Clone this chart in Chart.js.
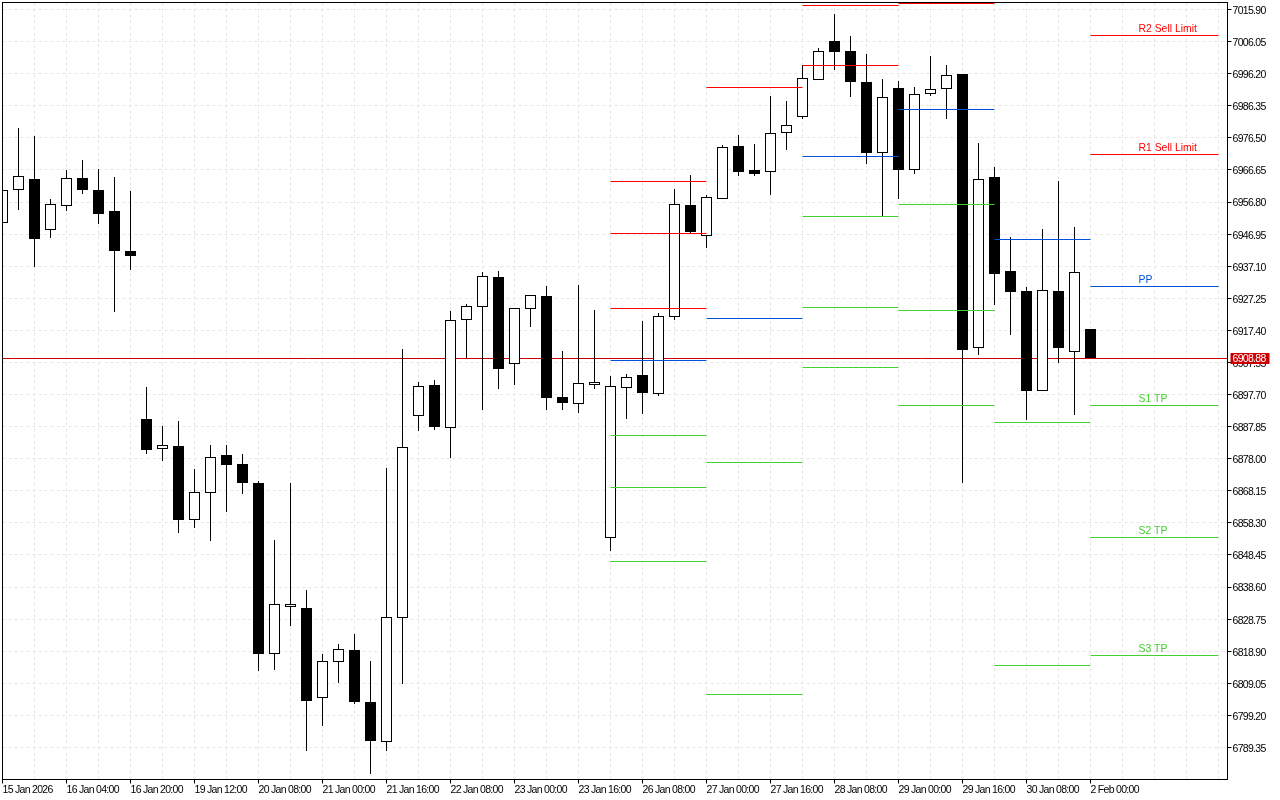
<!DOCTYPE html>
<html>
<head>
<meta charset="utf-8">
<title>Candles</title>
<script src="https://cdn.jsdelivr.net/npm/chart.js@4"></script>
<style>
    html, body { margin: 0; padding: 0; background: #fff; overflow: hidden; }
    canvas { display: block; }
</style>
</head>
<body>
<canvas id="candleChart" width="1280" height="800"></canvas>
<script>
const opens = [6950.3,6960.6,6963.8,6948.2,6955.6,6964.1,6960.4,6954.0,6941.7,6890.1,6881.0,6881.8,6859.2,6867.5,6879.1,6876.3,6870.5,6818.1,6832.5,6832.1,6804.6,6815.6,6819.2,6803.3,6791.1,6829.3,6891.3,6900.6,6887.6,6920.7,6924.6,6933.7,6907.1,6924.0,6927.9,6896.9,6895.0,6900.7,6853.8,6899.7,6903.6,6897.9,6921.5,6955.8,6946.4,6957.8,6973.9,6966.6,6966.0,6978.0,6983.1,6994.3,7006.2,7003.1,6993.6,6971.9,6991.7,6966.7,6989.9,6991.5,6996.0,6912.1,6964.4,6935.6,6929.4,6898.9,6929.4,6910.8,6917.8];
const highs = [6960.3,6979.5,6977.0,6957.7,6966.6,6969.6,6966.9,6964.4,6960.1,6900.0,6888.0,6889.5,6874.8,6882.1,6882.1,6879.4,6871.1,6853.0,6870.5,6837.6,6818.0,6821.1,6824.1,6815.8,6875.1,6911.6,6901.5,6902.1,6923.3,6925.4,6935.3,6935.6,6924.1,6928.1,6931.0,6911.0,6931.3,6923.6,6903.3,6903.9,6920.2,6922.7,6960.7,6965.0,6958.9,6974.2,6977.3,6974.5,6989.3,6987.8,6998.8,7004.0,7014.5,7007.7,7002.2,6994.5,6993.9,6992.0,7001.6,6998.8,6996.0,6974.9,6967.5,6946.0,6930.7,6948.5,6963.2,6949.1,6917.8];
const lows = [6950.3,6954.3,6936.9,6945.8,6954.1,6959.2,6950.0,6923.0,6935.9,6879.4,6877.5,6855.4,6856.7,6852.7,6861.6,6867.1,6812.8,6813.1,6826.6,6788.2,6795.9,6809.1,6802.9,6781.2,6788.2,6808.8,6886.5,6886.8,6878.2,6908.9,6892.9,6899.6,6900.6,6918.4,6892.9,6892.9,6892.0,6899.6,6849.6,6890.4,6891.7,6897.2,6920.8,6947.2,6942.6,6957.8,6964.7,6964.7,6958.9,6972.7,6982.5,6994.3,6997.3,6989.0,6968.4,6952.4,6957.7,6965.6,6989.3,6982.2,6870.5,6909.8,6925.1,6915.9,6890.1,6898.9,6907.6,6891.4,6908.9];
const closes = [6960.3,6964.6,6945.4,6956.0,6964.0,6960.4,6953.1,6941.7,6940.2,6880.6,6882.1,6859.4,6867.6,6878.4,6876.0,6870.5,6818.0,6833.2,6833.2,6803.6,6815.7,6819.4,6803.3,6791.3,6829.3,6881.4,6900.2,6887.8,6920.4,6924.7,6933.9,6905.5,6924.1,6928.1,6896.6,6895.1,6901.1,6901.4,6900.2,6903.1,6898.1,6921.7,6956.0,6947.8,6958.2,6973.5,6966.0,6965.6,6977.8,6980.3,6994.7,7003.0,7002.8,6993.6,6971.8,6988.9,6966.6,6989.8,6991.3,6995.6,6911.3,6963.7,6934.9,6929.1,6899.0,6929.6,6911.9,6935.2,6908.88];

// from candle, to candle, price
const redLevels = [[38,44,6963.10],[38,44,6947.14],[38,44,6924.11],[44,50,6991.96],[50,56,7017.13],[50,56,6998.71],[56,62,7017.74],[68,76,7007.92],[68,76,6971.39]];
const blueLevels = [[38,44,6908.15],[44,50,6921.04],[50,56,6970.77],[56,62,6985.20],[62,68,6945.29],[68,76,6930.87]];
const greenLevels = [[38,44,6885.13],[38,44,6869.16],[38,44,6846.45],[44,50,6876.84],[44,50,6805.62],[50,56,6952.36],[50,56,6924.42],[50,56,6906.00],[56,62,6956.04],[56,62,6923.50],[56,62,6894.34],[62,68,6889.12],[62,68,6814.52],[68,76,6894.34],[68,76,6853.81],[68,76,6817.59]];

const levelLabels = ['R2 Sell Limit','R1 Sell Limit','PP','S1 TP','S2 TP','S3 TP'];
const levelLabelPrices = [7007.92,6971.39,6930.87,6894.34,6853.81,6817.59];
const levelLabelColors = ['#ff0000','#ff0000','#0050d8','#44d030','#44d030','#44d030'];
const levelLabelCandle = 71;

const currentPrice = 6908.88;

const priceTicks = [7015.90,7006.05,6996.20,6986.35,6976.50,6966.65,6956.80,6946.95,6937.10,6927.25,6917.40,6907.55,6897.70,6887.85,6878.00,6868.15,6858.30,6848.45,6838.60,6828.75,6818.90,6809.05,6799.20,6789.35];
const timeLabels = ['15 Jan 2026','16 Jan 04:00','16 Jan 20:00','19 Jan 12:00','20 Jan 08:00','21 Jan 00:00','21 Jan 16:00','22 Jan 08:00','23 Jan 00:00','23 Jan 16:00','26 Jan 08:00','27 Jan 00:00','27 Jan 16:00','28 Jan 08:00','29 Jan 00:00','29 Jan 16:00','30 Jan 08:00','2 Feb 00:00'];
const gridStep = 2;
const labelEvery = 4;
const lastGridCandle = 76;

const axisFont = { family: '"Liberation Sans", sans-serif', size: 10.5 };
const axisSpacing = '-0.7px';

const levelDataset = (level, color) => ({
    type: 'line',
    data: [{ x: level[0], y: level[2] }, { x: level[1], y: level[2] }],
    borderColor: color,
    borderWidth: 1,
    pointRadius: 0,
    order: 1,
});

const timeLabelAt = (value) => value % labelEvery === 0 ? (timeLabels[value / labelEvery] || '') : '';

// the terminal draws on whole pixels, so snap the marks the same way
const snapPlugin = {
    id: 'snap',
    beforeDraw(chart) {
        chart.ctx.letterSpacing = axisSpacing;
    },
    beforeDatasetDraw(chart, args) {
        const meta = chart.getDatasetMeta(args.index);
        meta.data.forEach(el => {
            if (meta.type === 'bar') {
                const top = Math.min(el.y, el.base);
                const bottom = Math.max(el.y, el.base);
                el.y = Math.floor(top + 0.2);
                el.base = Math.ceil(bottom - 0.3);
            } else {
                el.y = Math.floor(el.y) + 0.5;
            }
        });
    }
};

const framePlugin = {
    id: 'frame',
    afterDraw(chart) {
        const ctx = chart.ctx;
        const area = chart.chartArea;
        const yScale = chart.scales.y;
        const xScale = chart.scales.x;

        ctx.save();
        ctx.strokeStyle = '#000';
        ctx.lineWidth = 1;
        ctx.strokeRect(area.left, area.top, area.right - area.left, area.bottom - area.top);

        ctx.letterSpacing = '0px';
        ctx.font = '10.4px "Liberation Sans", sans-serif';
        ctx.textBaseline = 'middle';
        ctx.textAlign = 'left';
        levelLabels.forEach((label, i) => {
            ctx.fillStyle = levelLabelColors[i];
            ctx.fillText(label, xScale.getPixelForValue(levelLabelCandle), yScale.getPixelForValue(levelLabelPrices[i]) - 6);
        });

        const priceY = Math.floor(yScale.getPixelForValue(currentPrice));
        ctx.fillStyle = '#cc0000';
        ctx.fillRect(area.right + 3, priceY - 5, 39, 11);
        ctx.fillStyle = '#fff';
        ctx.letterSpacing = axisSpacing;
        ctx.font = axisFont.size + 'px ' + axisFont.family;
        ctx.fillText(currentPrice.toFixed(2), area.right + 5, priceY + 1);
        ctx.restore();
    }
};

const candleIndex = opens.map((_, i) => i);

const ctx = document.getElementById('candleChart').getContext('2d');
const candleChart = new Chart(ctx, {
    type: 'bar',
    data: {
        datasets: [
            ...redLevels.map(l => levelDataset(l, '#ff0000')),
            ...blueLevels.map(l => levelDataset(l, '#0050d8')),
            ...greenLevels.map(l => levelDataset(l, '#44d030')),
            {
                data: candleIndex.map(i => ({ x: i, y: [opens[i], closes[i]] })),
                backgroundColor: candleIndex.map(i => closes[i] >= opens[i] ? '#ffffff' : '#000000'),
                borderColor: '#000000',
                borderWidth: 1,
                borderSkipped: false,
                barThickness: 11,
                inflateAmount: 0,
                grouped: false,
                order: 2,
            },
            {
                data: candleIndex.map(i => ({ x: i, y: [lows[i], highs[i]] })),
                backgroundColor: '#000000',
                borderWidth: 0,
                barThickness: 1,
                inflateAmount: 0,
                grouped: false,
                order: 3,
            },
            {
                type: 'line',
                data: [{ x: 0, y: currentPrice }, { x: 76.5625, y: currentPrice }],
                borderColor: '#cc0000',
                borderWidth: 1,
                pointRadius: 0,
                order: 4,
            },
        ]
    },
    options: {
        responsive: false,
        animation: false,
        layout: { padding: { left: 2.5, top: 2.5, right: 0, bottom: 0 } },
        plugins: {
            legend: { display: false },
            tooltip: { enabled: false },
        },
        scales: {
            x: {
                type: 'linear',
                offset: false,
                min: 0,
                max: 76.5625,
                afterFit: (scale) => {
                    scale.height = 20.5;
                    scale.paddingLeft = 0;
                    scale.paddingRight = 0;
                },
                afterBuildTicks: (scale) => {
                    const ticks = [];
                    for (let v = 0; v <= lastGridCandle; v += gridStep) ticks.push({ value: v });
                    scale.ticks = ticks;
                },
                grid: {
                    offset: false,
                    color: '#e6e6e6',
                    tickColor: (c) => (c.tick && timeLabelAt(c.tick.value)) ? '#000' : 'transparent',
                    tickLength: 4,
                    tickBorderDash: [],
                },
                border: { display: false, dash: [3, 3] },
                ticks: {
                    autoSkip: false,
                    maxRotation: 0,
                    align: 'start',
                    padding: 0,
                    color: '#000',
                    font: axisFont,
                    callback: timeLabelAt,
                },
            },
            y: {
                type: 'linear',
                position: 'right',
                min: 6779.53,
                max: 7018.05,
                afterFit: (scale) => {
                    scale.width = 52.5;
                    scale.paddingTop = 0;
                    scale.paddingBottom = 0;
                },
                afterBuildTicks: (scale) => {
                    scale.ticks = priceTicks.map(v => ({ value: v }));
                },
                grid: {
                    color: '#e6e6e6',
                    tickColor: '#000',
                    tickLength: 4,
                    tickBorderDash: [],
                },
                border: { display: false, dash: [3, 3] },
                ticks: {
                    autoSkip: false,
                    padding: 1,
                    labelOffset: 1.5,
                    color: '#000',
                    font: axisFont,
                    callback: (value) => value.toFixed(2),
                },
            },
        },
    },
    plugins: [snapPlugin, framePlugin],
});
</script>
</body>
</html>
